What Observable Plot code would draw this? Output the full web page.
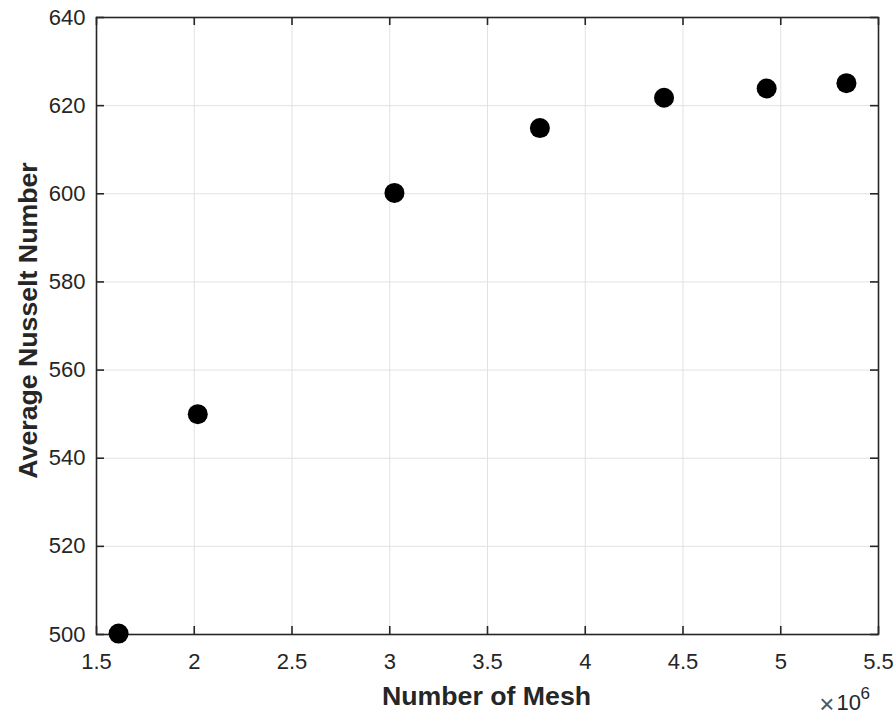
<!DOCTYPE html>
<html>
<head>
<meta charset="utf-8">
<script src="https://cdn.jsdelivr.net/npm/d3@7"></script>
<script src="https://cdn.jsdelivr.net/npm/@observablehq/plot@0.6"></script>
<style>
  html, body { margin: 0; padding: 0; background: #fff; }
  #chart svg { display: block; }
</style>
</head>
<body>
<div id="chart"></div>
<script>
// ---- data ----
const meshCount = [1613000, 2018000, 3024000, 3768000, 4403000, 4928000, 5336000];
const nusselt   = [500.2, 550.0, 600.2, 614.9, 621.8, 623.9, 625.1];
const xTicks = [1.5e6, 2e6, 2.5e6, 3e6, 3.5e6, 4e6, 4.5e6, 5e6, 5.5e6];
const yTicks = [500, 520, 540, 560, 580, 600, 620, 640];
const xLabel = "Number of Mesh";
const yLabel = "Average Nusselt Number";
const xExponentSign = "\u00D7";
const xExponentBase = "10";
const xExponent = "6";

const data = meshCount.map((m, i) => ({mesh: m, nu: nusselt[i]}));

const W = 895, H = 718;
const mL = 96, mR = 17, mT = 17, mB = 84;
const plotW = W - mL - mR, plotH = H - mT - mB;
const ink = "#262626";
const tickLen = 8;

const chart = Plot.plot({
  width: W, height: H,
  marginLeft: mL, marginRight: mR, marginTop: mT, marginBottom: mB,
  style: {fontFamily: "'Liberation Sans', Arial, Helvetica, sans-serif", color: ink, background: "#fff"},
  x: {domain: [xTicks[0], xTicks[xTicks.length - 1]]},
  y: {domain: [yTicks[0], yTicks[yTicks.length - 1]]},
  marks: [
    Plot.gridX(xTicks, {stroke: "#e2e2e2", strokeOpacity: 1}),
    Plot.gridY(yTicks, {stroke: "#e2e2e2", strokeOpacity: 1}),
    Plot.axisX(xTicks, {tickSize: 0, tickPadding: 19, fontSize: 22, label: null, tickFormat: d => String(d / 1e6), fill: ink}),
    Plot.axisY(yTicks, {tickSize: 0, tickPadding: 11, fontSize: 22, label: null, tickFormat: d => String(d), fill: ink}),
    // inward tick marks on all four sides
    Plot.ruleX(xTicks, {stroke: ink, strokeWidth: 1.6, insetTop: plotH - tickLen}),
    Plot.ruleX(xTicks, {stroke: ink, strokeWidth: 1.6, insetBottom: plotH - tickLen}),
    Plot.ruleY(yTicks, {stroke: ink, strokeWidth: 1.6, insetRight: plotW - tickLen}),
    Plot.ruleY(yTicks, {stroke: ink, strokeWidth: 1.6, insetLeft: plotW - tickLen}),
    Plot.frame({stroke: ink, strokeWidth: 1.6}),
    Plot.dot(data, {x: "mesh", y: "nu", r: 10, fill: "#000", stroke: "#000", strokeWidth: 0}),
    Plot.text([xLabel], {frameAnchor: "bottom", textAnchor: "middle", dx: -1, dy: 62, lineAnchor: "middle", fontSize: 26.7, fontWeight: "bold", fill: ink}),
    Plot.text([yLabel], {frameAnchor: "left", textAnchor: "middle", rotate: -90, dx: -68, dy: -5.5, lineAnchor: "middle", fontSize: 26.7, fontWeight: "bold", fill: ink}),
    Plot.text([xExponentSign], {frameAnchor: "bottom-right", textAnchor: "end", lineAnchor: "middle", dx: -44, dy: 70, fontSize: 26, fontWeight: 300, fill: "#555"}),
    Plot.text([xExponentBase], {frameAnchor: "bottom-right", textAnchor: "start", lineAnchor: "middle", dx: -42, dy: 68, fontSize: 22, fill: ink}),
    Plot.text([xExponent], {frameAnchor: "bottom-right", textAnchor: "start", lineAnchor: "middle", dx: -18, dy: 59.5, fontSize: 17, fill: ink})
  ]
});
document.getElementById("chart").appendChild(chart);
</script>
</body>
</html>
